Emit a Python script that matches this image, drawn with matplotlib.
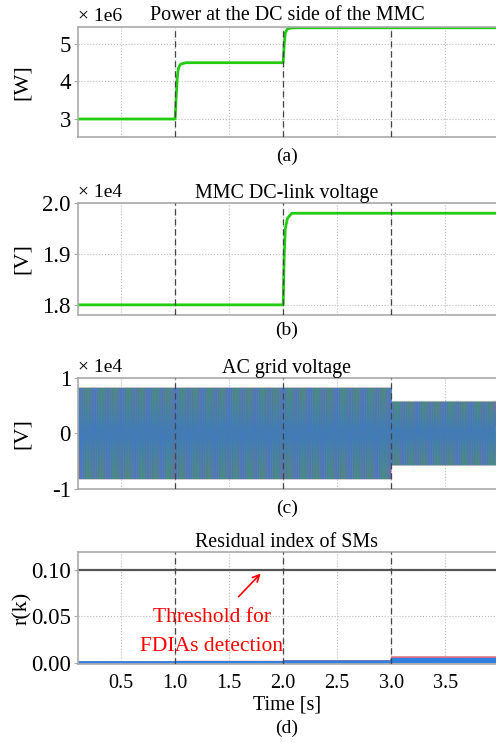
import numpy as np
import matplotlib
matplotlib.use('Agg')
import matplotlib.pyplot as plt
from matplotlib.ticker import FuncFormatter

plt.rcParams['font.family'] = ['Liberation Serif', 'DejaVu Serif']
plt.rcParams['font.size'] = 12

# DC power [W], breakpoints
power_t = [0.1, 1.0, 1.01, 1.02, 1.03, 1.05, 1.1, 2.0, 2.01, 2.02, 2.04, 2.08, 3.97]
power_w = [3.0e6, 3.0e6, 3.6e6, 4.1e6, 4.35e6, 4.46e6, 4.5e6, 4.5e6, 5.0e6, 5.3e6, 5.4e6, 5.43e6, 5.43e6]

# DC-link voltage [V]
vdc_t = [0.1, 2.0, 2.01, 2.02, 2.04, 2.08, 3.97]
vdc_v = [1.80e4, 1.80e4, 1.90e4, 1.95e4, 1.97e4, 1.98e4, 1.98e4]

# AC grid voltage: peak amplitude per interval
ac_edges = [0.1, 3.0, 3.97]
ac_peak = [8200, 5700]
grid_freq = 50.0
phase_colors = ['#ee2a2a', '#22a83a', '#3a72e0']

# residual index level per interval
res_edges = [0.1, 1.0, 2.0, 3.0, 3.97]
res_level = [0.0012, 0.0018, 0.0026, 0.0066]
threshold = 0.10

event_times = [1.0, 2.0, 3.0]
xlim = (0.1, 3.97)

fig = plt.figure(figsize=(4.96, 7.43), dpi=100)
left, width = 0.157, 0.843
boxes = [(0.8156, 0.148), (0.576, 0.1507), (0.3419, 0.1494), (0.1063, 0.1507)]
axes = [fig.add_axes([left, b, width, h]) for b, h in boxes]

ylab_x = -0.11
for ax in axes:
    ax.set_xlim(*xlim)
    ax.set_xticks([0.5, 1.0, 1.5, 2.0, 2.5, 3.0, 3.5])
    ax.grid(True, linestyle=':', color='#bbbbbb', linewidth=0.8)
    for s in ['top', 'left', 'bottom']:
        ax.spines[s].set_color('#aaaaaa')
        ax.spines[s].set_linewidth(1.2)
    ax.spines['right'].set_visible(False)
    ax.tick_params(axis='x', length=0, labelbottom=False, labelsize=14.5)
    ax.tick_params(axis='y', length=3, color='#aaaaaa', pad=2, labelsize=16.5)
    for t in event_times:
        ax.axvline(t, color='#444444', linestyle=(0, (5, 3)), linewidth=0.9, zorder=5)

# (a) power
ax = axes[0]
ax.plot(power_t, power_w, color='#22cc11', linewidth=2)
ax.set_ylim(2.52e6, 5.45e6)
ax.set_yticks([3e6, 4e6, 5e6])
ax.yaxis.set_major_formatter(FuncFormatter(lambda v, p: f'{v / 1e6:.0f}'))
ax.set_title('Power at the DC side of the MMC', pad=5)
ax.set_ylabel('[W]', fontsize=16)
ax.text(0.0, 1.02, '× 1e6', transform=ax.transAxes, ha='left', va='bottom', fontsize=14)

# (b) DC-link voltage
ax = axes[1]
ax.plot(vdc_t, vdc_v, color='#22cc11', linewidth=2)
ax.set_ylim(1.78e4, 2.0e4)
ax.set_yticks([1.8e4, 1.9e4, 2.0e4])
ax.yaxis.set_major_formatter(FuncFormatter(lambda v, p: f'{v / 1e4:.1f}'))
ax.set_title('MMC DC-link voltage', pad=3)
ax.set_ylabel('[V]', fontsize=16)
ax.text(0.0, 1.02, '× 1e4', transform=ax.transAxes, ha='left', va='bottom', fontsize=14)

# (c) AC grid voltage
ax = axes[2]
t_ac = np.arange(ac_edges[0], ac_edges[-1], 1 / (grid_freq * 24))
amp = np.where(t_ac < ac_edges[1], ac_peak[0], ac_peak[1])
for k, c in enumerate(phase_colors):
    ax.plot(t_ac, amp * np.sin(2 * np.pi * grid_freq * t_ac - k * 2 * np.pi / 3),
            color=c, linewidth=0.7, alpha=0.8)
ax.set_ylim(-1e4, 1e4)
ax.set_yticks([-1e4, 0, 1e4])
ax.yaxis.set_major_formatter(FuncFormatter(lambda v, p: f'{v / 1e4:.0f}'))
ax.set_title('AC grid voltage', pad=3)
ax.set_ylabel('[V]', fontsize=16)
ax.text(0.0, 1.02, '× 1e4', transform=ax.transAxes, ha='left', va='bottom', fontsize=14)

# (d) residual
ax = axes[3]
t_r = np.arange(res_edges[0], res_edges[-1], 1 / 1200)
lev = np.array(res_level)[np.searchsorted(res_edges, t_r, side='right') - 1]
ax.plot(t_r, lev * np.abs(np.sin(2 * np.pi * 50 * t_r)), color='#e07080', linewidth=0.8)
ax.plot(t_r, 0.7 * lev * np.abs(np.sin(2 * np.pi * 50 * t_r + 0.7)), color='#2f80e0', linewidth=1.2)
ax.axhline(threshold, color='#555555', linewidth=1.6)
ax.set_ylim(-0.0012, 0.119)
ax.set_yticks([0.0, 0.05, 0.10])
ax.yaxis.set_major_formatter(FuncFormatter(lambda v, p: f'{v:.2f}'))
ax.set_title('Residual index of SMs', pad=3)
ax.set_ylabel('r(k)', fontsize=16)
ax.tick_params(axis='x', labelbottom=True, pad=7)
ax.set_xlabel('Time [s]', labelpad=2, fontsize=14.5)
ax.annotate('', xy=(1.81, 0.098), xytext=(1.57, 0.069),
            arrowprops=dict(arrowstyle='->', color='red', lw=1.2))
ax.text(1.34, 0.033, 'Threshold for\nFDIAs detection', color='red', fontsize=15.5,
        ha='center', va='center', linespacing=1.75)

for ax in axes:
    ax.yaxis.set_label_coords(ylab_x, 0.5)

for ax, lab, y in zip(axes, ['(a)', '(b)', '(c)', '(d)'], [156, 330, 508, 728]):
    fig.text(left + width / 2, 1 - y / 743, lab, ha='center', va='center', fontsize=14)

fig.savefig('out.png', dpi=100)
